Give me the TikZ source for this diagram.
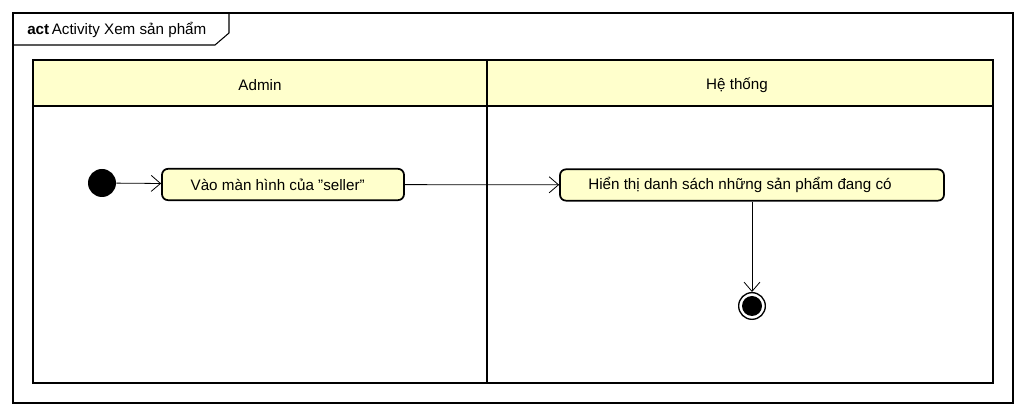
\documentclass[tikz,border=0pt]{standalone}
\usepackage{fontspec}
\setmainfont{Liberation Sans}
\usetikzlibrary{arrows.meta}
\definecolor{laneyellow}{HTML}{FFFFCC}
\begin{document}
\begin{tikzpicture}[x=0.75pt,y=-0.75pt,
  font=\fontsize{11.4}{13}\selectfont,
  lane/.style={draw=black,line width=1.6pt},
  action/.style={draw=black,line width=1.3pt,fill=laneyellow,rounded corners=4.5pt,minimum height=23.5pt,inner sep=0pt},
  flow/.style={draw=black,line width=0.6pt,-{Straight Barb[length=7pt,width=12pt,line width=0.6pt]}},
  frame/.style={draw=black,line width=0.8pt}]
\useasboundingbox (0,0) rectangle (1026,416);
% outer frame
\draw[frame] (13,13) rectangle (1013,403);
\draw[frame] (13,45) -- (215,45) -- (229,33) -- (229,13);
\node[anchor=west,inner sep=0pt] (title) at (27,30) {\textbf{act}\,Activity Xem sản phẩm};
% swimlanes
\fill[laneyellow] (33,60) rectangle (993,106);
\draw[lane] (33,60) rectangle (993,383);
\draw[lane] (33,106) -- (993,106);
\draw[lane] (487,60) -- (487,383);
\node (laneA) at (260,85) {Admin};
\node (laneB) at (737,85) {Hệ thống};
% nodes
\node[circle,fill=black,minimum size=21pt,inner sep=0pt] (start) at (102,183) {};
\node[action,minimum width=181.5pt] (a1) at (283,184.5) {\hspace*{-8pt}Vào màn hình của \symbol{34}seller\symbol{34}};
\node[action,minimum width=288pt] (a2) at (752,185) {\hspace*{-18pt}Hiển thị danh sách những sản phẩm đang có};
\node[circle,draw=black,line width=1pt,minimum size=20pt,inner sep=0pt] (end) at (752,306) {};
\fill[black] (end.center) circle (7.5pt);
% flows
\draw[flow] (start) -- (a1);
\draw[flow] (a1) -- (a2);
\draw[flow] (a2) -- (end);
\end{tikzpicture}
\end{document}
